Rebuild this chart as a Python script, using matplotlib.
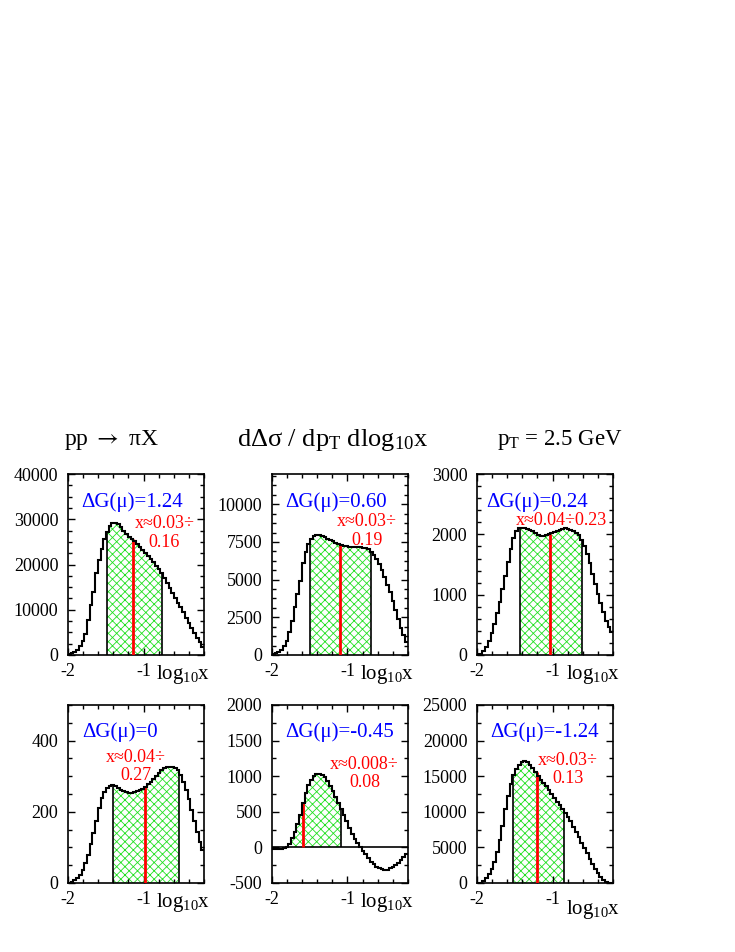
"""Polarised pi0 cross section dDsigma/dpT dlog10x at pT = 2.5 GeV for six Delta G(mu) sets.

Six small panels: stepped histogram in log10x, hatched band for the x range
that carries most of the cross section, red line at its median.
"""

import numpy as np
import matplotlib
matplotlib.use("Agg")
import matplotlib.pyplot as plt
from matplotlib.ticker import MultipleLocator

plt.rcParams.update({
    "font.family": ["Liberation Serif", "DejaVu Serif"],
    "mathtext.fontset": "custom",
    "mathtext.rm": "Liberation Serif",
    "mathtext.it": "Liberation Serif:italic",
    "mathtext.bf": "Liberation Serif:bold",
    "axes.unicode_minus": False,
    "hatch.linewidth": 0.6,
})

# ── Data ──────────────────────────────────────────────────────────────────────

X_MIN, X_MAX = -2.0, -0.2          # log10 x range of every panel

DG_LABELS = ["1.24", "0.60", "0.24", "0", "-0.45", "-1.24"]
XRANGE_LABELS = ["x≈0.03÷\n0.16", "x≈0.03÷\n0.19", "x≈0.04÷0.23",
                 "x≈0.04÷\n0.27", "x≈0.008÷\n0.08", "x≈0.03÷\n0.13"]

# shaded log10x band and median line
SHADE_LO = [-1.48, -1.49, -1.43, -1.40, -2.00, -1.53]
SHADE_HI = [-0.76, -0.69, -0.61, -0.53, -1.09, -0.85]
MEDIAN   = [-1.14, -1.10, -1.035, -0.98, -1.59, -1.21]

# histogram contents, 50 bins of 0.036 in log10x
DG_P124 = [300, 440, 740, 1100, 2060, 3170, 4640, 7730, 11050, 14000,
           18050, 21000, 23350, 25560, 27180, 28500, 29100, 29240, 28870, 28200,
           27480, 26740, 26000, 25560, 25120, 24450, 23790, 23200, 22470, 21880,
           21210, 20550, 19740, 18930, 18190, 17020, 15910, 14880, 13770, 12670,
           11560, 10530, 9500, 8250, 7070, 5970, 4790, 3830, 2870, 1840]
DG_P060 = [70, 110, 200, 330, 600, 930, 1520, 2280, 3160, 4020,
           4930, 6080, 6850, 7360, 7710, 7870, 7930, 7960, 7910, 7820,
           7710, 7620, 7560, 7450, 7360, 7290, 7230, 7200, 7180, 7180,
           7180, 7180, 7160, 7120, 7070, 7010, 6850, 6650, 6390, 6060,
           5640, 5190, 4640, 4180, 3560, 2980, 2390, 1790, 1300, 860]
DG_P024 = [10, 20, 60, 130, 225, 360, 515, 690, 885, 1090,
           1310, 1535, 1750, 1935, 2050, 2100, 2110, 2105, 2090, 2070,
           2050, 2015, 1995, 1980, 1975, 1985, 2000, 2015, 2040, 2060,
           2075, 2095, 2100, 2095, 2075, 2050, 2015, 1985, 1905, 1805,
           1675, 1520, 1335, 1170, 1010, 855, 705, 570, 470, 380]
DG_ZERO = [1, 3, 7, 13, 23, 37, 57, 79, 109, 139,
           175, 210, 238, 256, 267, 273, 274, 271, 266, 261,
           257, 255, 254, 254, 256, 258, 261, 265, 270, 277,
           285, 293, 301, 310, 317, 322, 326, 327, 326, 323,
           317, 303, 283, 261, 235, 205, 175, 144, 116, 93]
DG_M045 = [-17, -22, -26, -22, -8, 11, 53, 128, 222, 329,
           451, 619, 769, 872, 947, 998, 1027, 1036, 1022, 989,
           938, 867, 793, 713, 629, 535, 451, 371, 268, 194,
           123, 58, 6, -50, -97, -153, -200, -237, -270, -293,
           -307, -317, -312, -293, -270, -246, -214, -181, -139, -92]
DG_M124 = [0, 50, 230, 660, 1260, 2010, 3000, 4310, 6040, 8000,
           10390, 12210, 13900, 15210, 16050, 16610, 16990, 17130, 16990, 16610,
           16150, 15540, 14980, 14510, 14040, 13570, 13060, 12500, 11930, 11420,
           10900, 10390, 9870, 9310, 8750, 7910, 7210, 6460, 5660, 4960,
           4170, 3420, 2620, 2010, 1400, 840, 470, 190, 50, 0]

SERIES = [DG_P124, DG_P060, DG_P024, DG_ZERO, DG_M045, DG_M124]

# y axis: (min, max, major, minor)
Y_AXES = [(0, 40000, 10000, 2500), (0, 12000, 2500, 625), (0, 3000, 1000, 200),
          (0, 500, 200, 50), (-500, 2000, 500, 250), (0, 25000, 5000, 2500)]

# ── Layout (figure fractions) ─────────────────────────────────────────────────

COL_X  = [0.0925, 0.370, 0.649]
ROW_Y  = [0.312, 0.0725]
ROW_H  = [0.190, 0.187]
PANEL_W = 0.185

# text anchors in axes coords
DG_POS     = [(0.47, 0.845), (0.47, 0.845), (0.445, 0.845),
              (0.38, 0.85), (0.50, 0.85), (0.50, 0.85)]
XRANGE_POS = [(0.71, 0.675), (0.70, 0.685), (0.62, 0.746),
              (0.50, 0.655), (0.68, 0.615), (0.67, 0.638)]
XLABEL_Y   = [-0.11, -0.11, -0.11, -0.11, -0.11, -0.15]


def value_at(vals, edges, x):
    i = np.searchsorted(edges, x, side="right") - 1
    i = min(max(i, 0), len(vals) - 1)
    return max(vals[i], 0.0)


def draw_panel(ax, k):
    vals = np.asarray(SERIES[k], dtype=float)
    edges = np.linspace(X_MIN, X_MAX, len(vals) + 1)
    lo, hi, med = SHADE_LO[k], SHADE_HI[k], MEDIAN[k]

    # hatched band under the curve, clipped to [lo, hi]
    xs = np.repeat(edges, 2)[1:-1]
    ys = np.repeat(vals, 2)
    ax.fill_between(np.clip(xs, lo, hi), 0, np.maximum(ys, 0), facecolor="white",
                    edgecolor="#22e022", hatch="xxxx", linewidth=0, zorder=1)
    if lo > X_MIN:
        ax.vlines(lo, 0, value_at(vals, edges, lo), color="black", lw=1.2, zorder=2)
    ax.vlines(hi, 0, value_at(vals, edges, hi), color="black", lw=1.2, zorder=2)
    ax.vlines(med, 0, value_at(vals, edges, med), color="red", lw=2.0, zorder=3)

    if Y_AXES[k][0] < 0:
        ax.axhline(0, color="black", lw=1.2, zorder=2)
    ax.stairs(vals, edges, baseline=None, color="black", lw=1.5, zorder=4)

    ymin, ymax, major, minor = Y_AXES[k]
    ax.set_xlim(X_MIN, X_MAX)
    ax.set_ylim(ymin, ymax)
    ax.xaxis.set_major_locator(MultipleLocator(1))
    ax.xaxis.set_minor_locator(MultipleLocator(0.2))
    ax.yaxis.set_major_locator(MultipleLocator(major))
    ax.yaxis.set_minor_locator(MultipleLocator(minor))
    ax.tick_params(which="both", direction="in", top=True, right=True,
                   labelsize=13, width=1.0)
    ax.tick_params(which="major", length=5)
    ax.tick_params(which="minor", length=3.2)
    ax.tick_params(axis="y", pad=7)
    ax.tick_params(axis="x", pad=6)
    for sp in ax.spines.values():
        sp.set_linewidth(1.2)

    ax.text(*DG_POS[k], f"ΔG(μ)={DG_LABELS[k]}", transform=ax.transAxes,
            ha="center", va="center", color="blue", fontsize=15)
    ax.text(*XRANGE_POS[k], XRANGE_LABELS[k], transform=ax.transAxes,
            ha="center", va="center", color="red", fontsize=13, linespacing=1.1)
    ax.text(0.85, XLABEL_Y[k], "log$_{10}$x", transform=ax.transAxes,
            ha="center", va="center", fontsize=15)


def main():
    fig = plt.figure(figsize=(7.35, 9.52), dpi=100)
    for k in range(6):
        r, c = divmod(k, 3)
        ax = fig.add_axes([COL_X[c], ROW_Y[r], PANEL_W, ROW_H[r]])
        draw_panel(ax, k)

    # ── Header line ───────────────────────────────────────────────────────
    fig.text(111.5 / 735, 1 - 440 / 952, r"pp $\rightarrow$ πX", ha="center",
             va="center", fontsize=17, math_fontfamily="stix")
    fig.text(332 / 735, 1 - 440 / 952, "dΔσ / dp$_{\\mathrm{T}}$ dlog$_{10}$x",
             ha="center", va="center", fontsize=19)
    fig.text(560 / 735, 1 - 440 / 952, "p$_{\\mathrm{T}}$ = 2.5 GeV",
             ha="center", va="center", fontsize=16.5)

    fig.savefig("out.png", dpi=100)


if __name__ == "__main__":
    main()
